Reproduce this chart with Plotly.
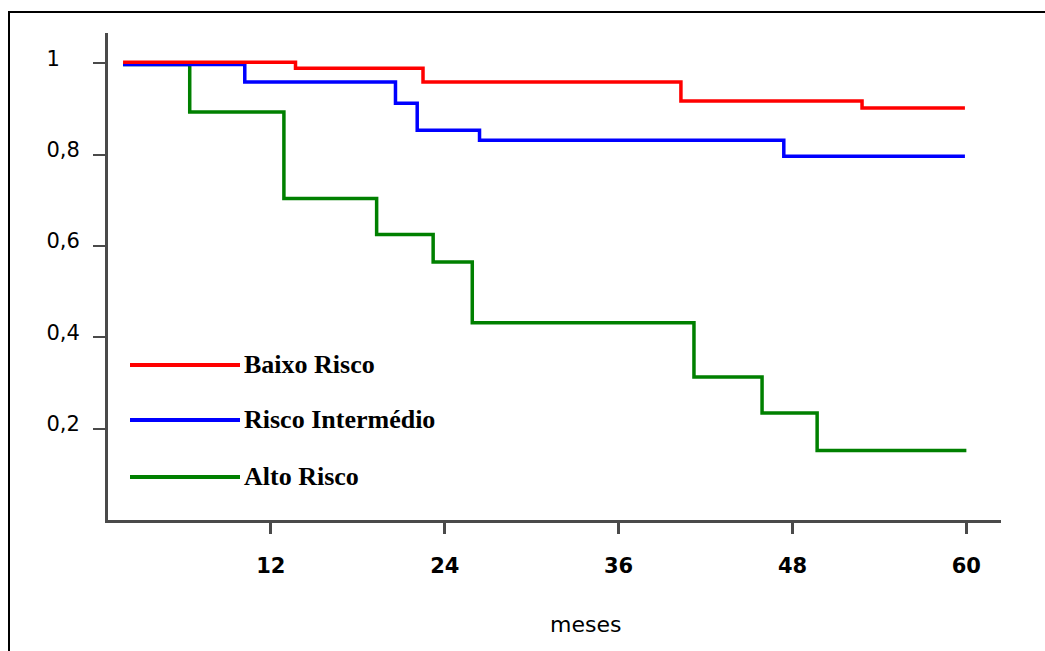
import plotly.graph_objects as go

# Kaplan-Meier survival data (months, survival)
baixo_t = [1.8, 13.7, 22.5, 40.3, 52.8, 59.9]
baixo_s = [1.002, 0.989, 0.959, 0.917, 0.902, 0.902]

inter_t = [1.8, 10.2, 20.6, 22.1, 26.4, 47.4, 59.9]
inter_s = [0.997, 0.959, 0.912, 0.853, 0.831, 0.796, 0.796]

alto_t = [1.8, 6.4, 12.9, 19.3, 23.2, 25.9, 41.2, 45.9, 49.7, 60.0]
alto_s = [0.997, 0.893, 0.704, 0.625, 0.565, 0.432, 0.313, 0.234, 0.152, 0.152]

series_names = ["Baixo Risco", "Risco Intermédio", "Alto Risco"]
series_colors = ["#ff0000", "#0000ff", "#008000"]

x_ticks = [12, 24, 36, 48, 60]
y_ticks = [0.2, 0.4, 0.6, 0.8, 1.0]
y_ticktext = ["0,2", "0,4", "0,6", "0,8", "1\u2007\u2008"]

fig = go.Figure()
for t, s, c in zip([alto_t, inter_t, baixo_t], [alto_s, inter_s, baixo_s], series_colors[::-1]):
    fig.add_trace(go.Scatter(x=t, y=s, mode="lines", line=dict(color=c, width=3.5, shape="hv"),
                             showlegend=False, hoverinfo="skip"))

W, H = 1045, 651
L, R, T, B = 108, 44, 33, 131
pw, ph = W - L - R, H - T - B

def px(xp):
    return (xp - L) / pw

def py(yp):
    return (H - B - yp) / ph

shapes = []
annotations = []
# manual legend
leg_y = [365, 420, 477]
for name, c, yy in zip(series_names, series_colors, leg_y):
    shapes.append(dict(type="line", xref="paper", yref="paper", x0=px(130), x1=px(240),
                       y0=py(yy), y1=py(yy), line=dict(color=c, width=4)))
    annotations.append(dict(text=name, xref="paper", yref="paper", x=px(242), y=py(yy - 1),
                            xanchor="left", yanchor="middle", showarrow=False,
                            font=dict(family="Liberation Serif", size=26, color="black", weight="bold")))

# frame (top and left border)
shapes.append(dict(type="line", xref="paper", yref="paper", x0=px(8), x1=px(1060), y0=py(12), y1=py(12),
                   line=dict(color="black", width=2)))
shapes.append(dict(type="line", xref="paper", yref="paper", x0=px(9), x1=px(9), y0=py(12), y1=py(700),
                   line=dict(color="black", width=2)))

annotations.append(dict(text="meses", xref="paper", yref="paper", x=px(585), y=py(624),
                        xanchor="center", yanchor="middle", showarrow=False,
                        font=dict(family="DejaVu Sans", size=22, color="black")))

fig.update_layout(
    width=W, height=H,
    margin=dict(l=L, r=R, t=T, b=B, pad=0),
    paper_bgcolor="white", plot_bgcolor="white",
    shapes=shapes, annotations=annotations,
    xaxis=dict(range=[0.76, 62.39], tickvals=x_ticks, ticktext=[str(v) for v in x_ticks],
               showgrid=False, zeroline=False, showline=True, linecolor="#4a4a4a", linewidth=3,
               ticks="outside", ticklen=11, tickwidth=3, tickcolor="#4a4a4a",
               tickfont=dict(family="DejaVu Sans", size=21, color="black", weight="bold"),
               ticklabelstandoff=14),
    yaxis=dict(range=[0, 1.066], tickvals=y_ticks, ticktext=y_ticktext,
               showgrid=False, zeroline=False, showline=True, linecolor="#4a4a4a", linewidth=3,
               ticks="outside", ticklen=12, tickwidth=2, tickcolor="#4a4a4a",
               tickfont=dict(family="DejaVu Sans", size=21, color="black"),
               ticklabelstandoff=9, ticklabelshift=-5),
)

fig.write_html("out.html")
